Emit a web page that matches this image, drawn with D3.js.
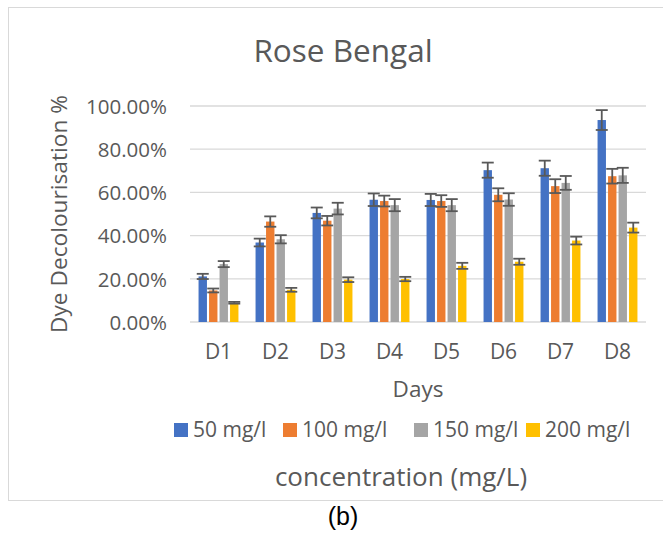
<!DOCTYPE html>
<html>
<head>
<meta charset="utf-8">
<script src="https://cdn.jsdelivr.net/npm/d3@7"></script>
<style>
  body { margin: 0; background: #fff; }
  svg text { font-family: "Open Sans", sans-serif; fill: #595959; }
</style>
</head>
<body>
<div id="chart"></div>
<script>
// data
var days = ["D1", "D2", "D3", "D4", "D5", "D6", "D7", "D8"];
var seriesNames = ["50 mg/l", "100 mg/l", "150 mg/l", "200 mg/l"];
var s50  = [21.1, 36.8, 50.5, 56.6, 56.5, 70.3, 71.2, 93.5];
var s100 = [14.6, 46.5, 46.9, 56.0, 56.0, 58.9, 62.9, 67.5];
var s150 = [26.8, 38.3, 52.5, 54.1, 54.1, 56.7, 64.4, 67.9];
var s200 = [8.9, 14.9, 19.6, 19.9, 26.0, 27.9, 37.7, 43.7];
var e50  = [1.2, 1.8, 2.5, 2.9, 2.8, 3.5, 3.5, 4.6];
var e100 = [0.9, 2.4, 2.2, 2.5, 2.7, 3.0, 3.2, 3.4];
var e150 = [1.4, 1.9, 2.7, 2.8, 2.8, 2.9, 3.2, 3.5];
var e200 = [0.4, 0.9, 1.1, 1.0, 1.4, 1.4, 1.8, 2.3];
var yTicks = [0, 20, 40, 60, 80, 100];
var colors = ["#4472C4", "#ED7D31", "#A5A5A5", "#FFC000"];

var values = [s50, s100, s150, s200];
var errors = [e50, e100, e150, e200];

var W = 663, H = 537;
var svg = d3.select("#chart").append("svg")
    .attr("width", W).attr("height", H);

// chart area frame
svg.append("rect")
    .attr("x", 8.5).attr("y", 7.5)
    .attr("width", 700).attr("height", 493)
    .attr("fill", "#fff").attr("stroke", "#d9d9d9");

var x = d3.scaleBand().domain(days).range([190, 646])
    .paddingInner(0.3).paddingOuter(0.15);
var xs = d3.scaleBand().domain(d3.range(4)).range([0, x.bandwidth()])
    .paddingInner(0.2);
var y = d3.scaleLinear().domain([0, 100]).range([322, 106]);

// gridlines
svg.append("g").selectAll("line").data(yTicks).enter().append("line")
    .attr("x1", 190).attr("x2", 646)
    .attr("y1", function(d){ return y(d); })
    .attr("y2", function(d){ return y(d); })
    .attr("stroke", "#d9d9d9").attr("stroke-width", 1.3);

var yAxis = d3.axisLeft(y).tickValues(yTicks).tickSize(0).tickPadding(0)
    .tickFormat(function(d){ return d.toFixed(2) + "%"; });
var gY = svg.append("g").attr("transform", "translate(167,0)").call(yAxis);
gY.select(".domain").remove();
gY.selectAll("text").style("font-size", "20.5px").style("fill", "#595959")
    .style("font-family", "'Open Sans', sans-serif").attr("dy", "0.36em");

// bars
var groups = svg.append("g").selectAll("g").data(values).enter().append("g")
    .attr("fill", function(d, i){ return colors[i]; });

groups.each(function(vals, si){
    var g = d3.select(this);
    g.selectAll("rect").data(vals).enter().append("rect")
        .attr("x", function(d, i){ return x(days[i]) + xs(si); })
        .attr("width", xs.bandwidth())
        .attr("y", function(d){ return y(d); })
        .attr("height", function(d){ return y(0) - y(d); });

    var eb = g.selectAll("g.err").data(vals).enter().append("g")
        .attr("class", "err")
        .attr("stroke", "#595959").attr("stroke-width", 1.8);
    eb.append("line")
        .attr("x1", function(d, i){ return x(days[i]) + xs(si) + xs.bandwidth() / 2; })
        .attr("x2", function(d, i){ return x(days[i]) + xs(si) + xs.bandwidth() / 2; })
        .attr("y1", function(d, i){ return y(d + errors[si][i]); })
        .attr("y2", function(d, i){ return y(d - errors[si][i]); });
    [1, -1].forEach(function(sign){
        eb.append("line")
            .attr("x1", function(d, i){ return x(days[i]) + xs(si) + xs.bandwidth() / 2 - 6; })
            .attr("x2", function(d, i){ return x(days[i]) + xs(si) + xs.bandwidth() / 2 + 6; })
            .attr("y1", function(d, i){ return y(d + sign * errors[si][i]); })
            .attr("y2", function(d, i){ return y(d + sign * errors[si][i]); });
    });
});

// x labels
var xAxis = d3.axisBottom(x).tickSize(0).tickPadding(0);
var gX = svg.append("g").attr("transform", "translate(0,340)").call(xAxis);
gX.select(".domain").remove();
gX.selectAll("text").style("font-size", "21px").style("fill", "#595959")
    .style("font-family", "'Open Sans', sans-serif").attr("dy", 19);

svg.append("text").attr("x", 343).attr("y", 62)
    .attr("text-anchor", "middle").style("font-size", "31.5px")
    .text("Rose Bengal");

svg.append("text").attr("x", 418).attr("y", 397)
    .attr("text-anchor", "middle").style("font-size", "22.5px")
    .text("Days");

svg.append("text")
    .attr("transform", "translate(67,214) rotate(-90)")
    .attr("text-anchor", "middle").style("font-size", "22.7px")
    .text("Dye Decolourisation %");

// legend
var legX = [174, 283, 414, 526];
var leg = svg.append("g").selectAll("g").data(seriesNames).enter().append("g")
    .attr("transform", function(d, i){ return "translate(" + legX[i] + ",423)"; });
leg.append("rect").attr("width", 14).attr("height", 14)
    .attr("fill", function(d, i){ return colors[i]; });
leg.append("text").attr("x", 19).attr("y", 14)
    .style("font-size", "21px").text(function(d){ return d; });

svg.append("text").attr("x", 401).attr("y", 486)
    .attr("text-anchor", "middle").style("font-size", "26px")
    .text("concentration (mg/L)");

svg.append("text").attr("x", 343).attr("y", 525)
    .attr("text-anchor", "middle")
    .style("font-family", "'Liberation Sans', Arial, sans-serif")
    .style("font-size", "25px").style("fill", "#000")
    .text("(b)");
</script>
</body>
</html>
